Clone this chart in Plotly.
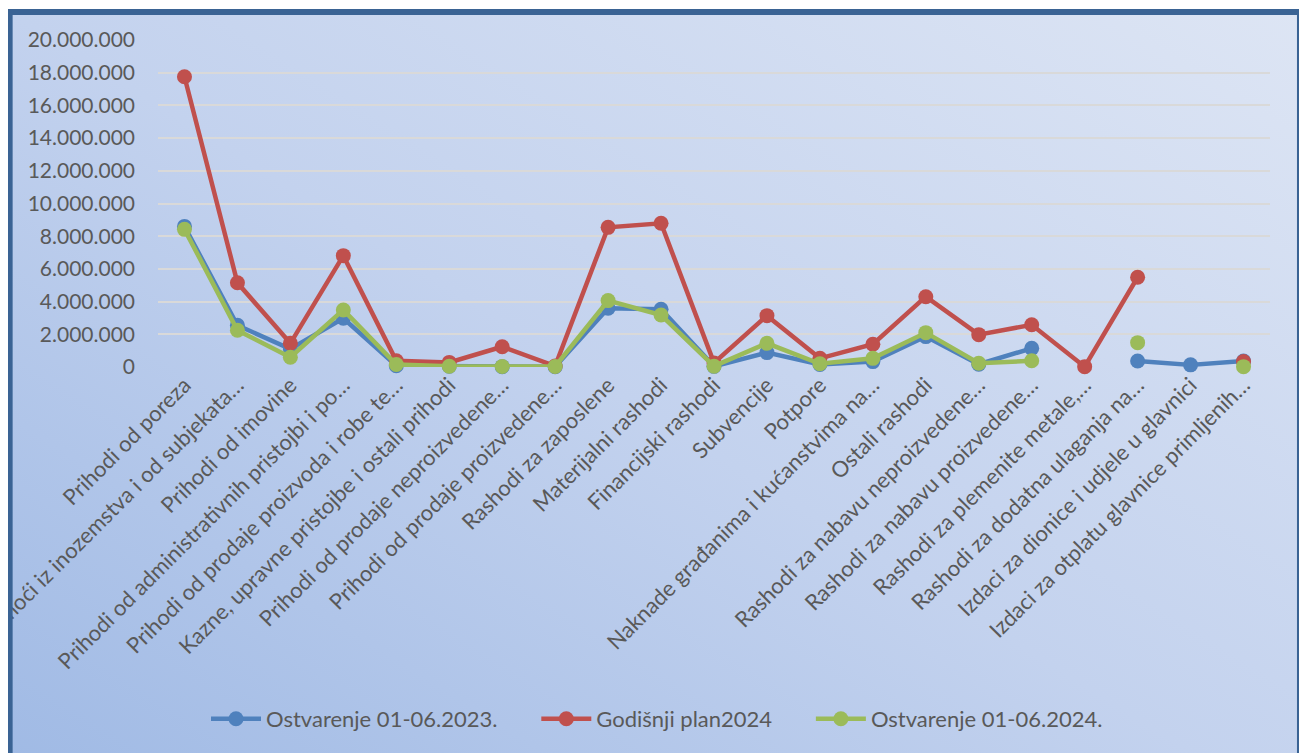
import base64
import plotly.graph_objects as go

categories = [
    "Prihodi od poreza",
    "Pomoći iz inozemstva i od subjekata…",
    "Prihodi od imovine",
    "Prihodi od administrativnih pristojbi i po…",
    "Prihodi od prodaje proizvoda i robe te…",
    "Kazne, upravne pristojbe i ostali prihodi",
    "Prihodi od prodaje neproizvedene…",
    "Prihodi od prodaje proizvedene…",
    "Rashodi za zaposlene",
    "Materijalni rashodi",
    "Financijski rashodi",
    "Subvencije",
    "Potpore",
    "Naknade građanima i kućanstvima na…",
    "Ostali rashodi",
    "Rashodi za nabavu neproizvedene…",
    "Rashodi za nabavu proizvedene…",
    "Rashodi za plemenite metale,…",
    "Rashodi za dodatna ulaganja na…",
    "Izdaci za dionice i udjele u glavnici",
    "Izdaci za otplatu glavnice primljenih…",
]

ostvarenje_2023 = [8600000, 2550000, 1100000, 2980000, 80000, 50000, 20000, 20000,
                   3590000, 3530000, 40000, 880000, 150000, 330000, 1860000, 170000,
                   1140000, None, 370000, 130000, 370000]
plan_2024 = [17750000, 5150000, 1450000, 6810000, 380000, 280000, 1240000, 60000,
             8540000, 8790000, 250000, 3140000, 530000, 1390000, 4300000, 1980000,
             2580000, 20000, 5490000, None, 330000]
ostvarenje_2024 = [8420000, 2250000, 600000, 3490000, 150000, 50000, 30000, 30000,
                   4060000, 3180000, 50000, 1450000, 200000, 530000, 2100000, 230000,
                   380000, None, 1490000, None, 20000]

series_names = ["Ostvarenje 01-06.2023.", "Godišnji plan2024", "Ostvarenje 01-06.2024."]
series_colors = ["#4F81BD", "#C0504D", "#9BBB59"]

# the page body adds an 8px offset; figure coordinates = screen coordinates - 8
OFF = 8
W, H = 1307 - OFF, 753 - OFF
L, R, T, B = 157.5 - OFF, 36.5, 40 - OFF, 386
PW, PH = W - L - R, H - T - B

def px_x(sx):
    return (sx - OFF - L) / PW

def px_y(sy):
    return (H - B - (sy - OFF)) / PH

FONT = "Lato, 'Open Sans', sans-serif"
TXT = "#595959"
PAD = "\u00a0" * 6

fig = go.Figure()
for i, (name, vals, col) in enumerate(zip(series_names, [ostvarenje_2023, plan_2024, ostvarenje_2024], series_colors)):
    fig.add_trace(go.Scatter(
        x=categories, y=vals, name=name + (PAD if i < 2 else ""), mode="lines+markers",
        line=dict(color=col, width=4.5),
        marker=dict(color=col, size=15),
        cliponaxis=False, connectgaps=False,
    ))

svg = (
    '<svg xmlns="http://www.w3.org/2000/svg" width="1307" height="753" viewBox="0 0 1307 753" preserveAspectRatio="none">'
    '<defs><linearGradient id="g" x1="0" y1="1" x2="1" y2="0">'
    '<stop offset="0" stop-color="#9db8e4"/>'
    '<stop offset="0.5" stop-color="#c3d2ee"/>'
    '<stop offset="1" stop-color="#dde5f4"/>'
    '</linearGradient></defs>'
    '<rect x="0" y="0" width="1307" height="753" fill="url(#g)"/></svg>'
)
src = "data:image/svg+xml;base64," + base64.b64encode(svg.encode()).decode()

fig.add_layout_image(dict(
    source=src, xref="paper", yref="paper",
    x=px_x(9), y=px_y(12), sizex=(1300.5 - 9) / PW, sizey=(820 - 12) / PH,
    xanchor="left", yanchor="top", sizing="stretch", layer="below",
))

shapes = [
    dict(type="rect", xref="paper", yref="paper", x0=px_x(9), x1=px_x(1300.5), y0=px_y(12), y1=px_y(830),
         line=dict(color="#3A6394", width=6), fillcolor="rgba(0,0,0,0)", layer="above"),
]

fig.update_layout(
    width=W, height=H,
    margin=dict(l=L, r=R, t=T, b=B, autoexpand=False),
    paper_bgcolor="white", plot_bgcolor="rgba(0,0,0,0)",
    separators=",.",
    font=dict(family=FONT, color=TXT, size=21),
    shapes=shapes,
    showlegend=True,
    legend=dict(orientation="h", xref="container", yref="container",
                x=(657 - OFF) / W, xanchor="center", y=1 - (719 - OFF) / H, yanchor="middle",
                bgcolor="rgba(0,0,0,0)", font=dict(family=FONT, size=22, color=TXT),
                itemwidth=50),
    xaxis=dict(type="category", range=[-0.5, len(categories) - 0.5], tickangle=-45,
               showgrid=False, showline=False, zeroline=False, ticks="",
               tickfont=dict(family=FONT, size=22, color=TXT), automargin=False),
    yaxis=dict(range=[0, 20000000], dtick=2000000, tickformat=",d",
               showgrid=True, gridcolor="#d9d9d9", gridwidth=1.5, zeroline=False,
               showline=False, ticks="", ticklabelstandoff=22,
               tickfont=dict(family=FONT, size=21, color=TXT), automargin=False),
)

fig.write_html("out.html")
